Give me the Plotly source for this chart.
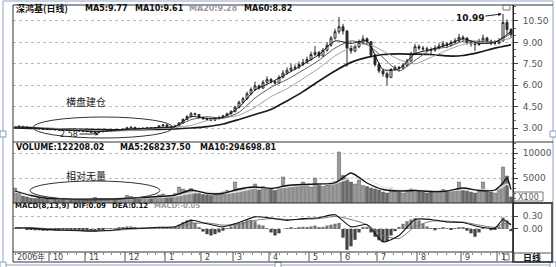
import plotly.graph_objects as go

W, H = 556, 267

def X(px):
    return px / W

def Y(py):
    return 1 - py / H

# ---------------- data ----------------
closes = [3.05,3.12,3.08,3.02,3.00,2.98,2.95,2.93,2.90,2.92,
          2.88,2.86,2.85,2.88,2.84,2.82,2.80,2.78,2.76,2.72,
          2.70,2.74,2.78,2.82,2.85,2.83,2.86,2.90,3.02,3.05,
          2.98,2.96,2.98,3.00,2.97,3.00,3.15,3.22,3.10,3.05,
          3.15,3.35,3.60,3.80,4.00,3.95,3.75,3.65,3.60,3.55,
          3.65,3.75,3.85,4.00,4.15,4.45,4.80,5.05,5.40,5.70,
          5.95,5.80,6.20,6.40,6.25,6.15,6.55,6.85,7.05,7.20,
          7.25,7.45,7.60,7.80,8.15,8.30,8.05,8.45,8.80,9.30,
          9.75,10.10,9.80,8.60,8.40,8.70,9.00,9.25,9.05,8.10,
          7.45,7.00,6.80,6.55,7.10,7.25,7.20,7.40,7.70,8.20,
          8.70,8.60,8.55,8.50,8.45,8.60,8.75,8.90,8.80,9.00,
          9.10,9.35,9.30,9.00,8.90,8.85,9.05,9.30,9.10,8.95,
          8.95,9.10,10.40,9.90,9.55]
opens = [3.00,3.05,3.12,3.08,3.03,3.00,2.98,2.95,2.93,2.89,
         2.92,2.88,2.86,2.84,2.88,2.84,2.82,2.80,2.78,2.76,
         2.72,2.69,2.74,2.78,2.82,2.85,2.83,2.86,2.90,3.02,
         3.05,2.98,2.96,2.98,3.00,2.97,3.00,3.15,3.22,3.10,
         3.05,3.15,3.35,3.60,3.80,4.00,3.95,3.75,3.65,3.60,
         3.55,3.65,3.75,3.85,4.00,4.15,4.45,4.80,5.05,5.40,
         5.70,5.95,5.80,6.20,6.40,6.25,6.15,6.55,6.85,7.05,
         7.20,7.25,7.45,7.60,7.80,8.15,8.30,8.05,8.45,8.80,
         9.30,9.75,10.10,9.80,8.60,8.40,8.70,9.00,9.25,9.05,
         8.10,7.45,7.00,6.80,6.55,7.10,7.25,7.20,7.40,7.70,
         8.20,8.70,8.60,8.55,8.50,8.45,8.60,8.75,8.90,8.80,
         9.00,9.10,9.35,9.30,9.00,8.90,8.85,9.05,9.30,9.10,
         8.95,8.95,9.10,10.40,9.90]
highs = [3.10,3.18,3.14,3.10,3.06,3.03,3.01,2.98,2.96,2.96,
         2.95,2.91,2.90,2.92,2.91,2.87,2.86,2.84,2.82,2.79,
         2.76,2.78,2.82,2.86,2.90,2.88,2.91,2.95,3.08,3.12,
         3.07,3.01,3.03,3.05,3.03,3.05,3.20,3.28,3.24,3.13,
         3.22,3.42,3.68,3.90,4.12,4.08,3.98,3.80,3.72,3.66,
         3.72,3.82,3.92,4.08,4.25,4.55,4.92,5.18,5.55,5.85,
         6.25,6.05,6.35,6.62,6.50,6.35,6.70,7.05,7.25,7.50,
         7.45,7.65,7.85,8.00,8.35,8.75,8.40,8.60,9.00,9.45,
         9.95,10.78,10.30,9.85,8.80,8.85,9.20,9.50,9.35,9.10,
         8.20,7.60,7.15,6.95,7.20,7.40,7.35,7.55,7.85,8.35,
         8.90,8.85,8.75,8.70,8.65,8.80,8.95,9.10,9.00,9.15,
         9.30,9.60,9.50,9.35,9.10,9.05,9.25,9.55,9.40,9.20,
         9.15,9.30,10.99,10.60,10.00]
lows = [2.97,3.02,3.04,2.98,2.96,2.94,2.91,2.89,2.86,2.86,
        2.84,2.82,2.81,2.81,2.80,2.78,2.76,2.73,2.70,2.66,
        2.58,2.65,2.71,2.75,2.79,2.79,2.80,2.83,2.88,2.98,
        2.93,2.91,2.92,2.94,2.92,2.93,2.97,3.10,3.05,3.00,
        3.02,3.12,3.30,3.55,3.74,3.86,3.68,3.58,3.52,3.48,
        3.50,3.60,3.70,3.80,3.94,4.10,4.38,4.72,4.98,5.30,
        5.62,5.68,5.75,6.10,6.12,6.02,6.10,6.48,6.75,6.95,
        7.05,7.15,7.35,7.50,7.72,8.05,7.90,7.98,8.35,8.70,
        9.20,9.60,9.55,7.30,8.20,8.30,8.60,8.90,8.85,7.95,
        7.30,6.85,6.60,6.00,6.50,7.00,6.95,7.10,7.30,7.60,
        8.10,8.45,8.40,8.30,8.10,8.35,8.50,8.65,8.60,8.70,
        8.90,9.00,9.10,8.85,8.70,8.40,8.75,8.95,8.95,8.80,
        8.80,8.85,9.05,9.60,9.30]
volumes = [3000,2200,1400,1200,1000,900,1100,800,900,1000,
           800,700,900,750,650,800,700,600,750,900,
           1100,800,700,750,850,700,800,900,1500,1300,
           1000,900,950,1100,900,1000,1600,1800,1300,1200,
           1900,3200,2800,2500,2900,2200,1900,1700,1600,1500,
           1800,2000,2200,2500,2300,4200,2800,3000,2700,3200,
           3800,2600,3300,3000,2700,2500,3000,5200,3400,3100,
           3600,3300,4200,3500,3200,5000,3600,3300,3600,4000,
           4300,10200,5500,5000,4200,3800,4600,3500,3300,3000,
           2800,2600,2200,2000,3000,2400,2200,2000,2300,2800,
           2600,2400,2200,2000,2500,2300,2100,2700,2400,2300,
           2600,4200,2800,2400,2200,2000,2500,4200,2600,2200,
           2000,3000,7200,5400,1222]
day_idx = list(range(len(closes)))

ma_idx = list(range(0, 125, 4))
ma5 = [3.06,3.03,2.93,2.86,2.82,2.73,2.82,2.93,2.97,3.04,3.10,3.80,3.67,3.75,4.45,5.65,
       6.20,6.80,7.45,8.15,9.10,8.93,9.10,7.10,7.15,8.20,8.50,8.82,9.25,8.93,9.00,9.77]
ma10 = [3.07,3.05,2.95,2.88,2.84,2.76,2.78,2.88,2.96,3.02,3.10,3.58,3.79,3.68,4.10,5.10,
        5.85,6.40,7.05,7.75,8.60,9.10,8.85,7.94,7.00,7.74,8.50,8.67,9.07,9.08,9.03,9.61]
ma20 = [3.05,3.05,3.02,2.94,2.88,2.81,2.78,2.81,2.90,2.97,3.03,3.18,3.52,3.72,3.90,4.45,
        5.20,5.75,6.45,7.20,8.05,8.65,8.90,8.40,7.80,7.50,7.95,8.45,8.85,9.00,9.08,9.28]
ma60 = [3.00,2.98,2.95,2.93,2.91,2.89,2.88,2.88,2.89,2.90,2.93,3.00,3.10,3.28,3.60,3.95,
        4.30,4.90,5.55,6.30,7.00,7.60,7.95,8.15,8.20,8.18,8.15,8.05,8.08,8.30,8.60,8.82]

vma_idx = list(range(0, 121, 4)) + [122, 123, 124]
vma5 = [2400,1500,950,850,750,800,800,950,1100,1300,1550,2600,1900,1900,2800,3200,2900,
        3500,3700,3800,4000,6000,4000,2700,2400,2500,2300,2400,3000,2500,2600,4000,5000,2682]
vma10 = [2200,1800,1200,900,800,800,800,900,1000,1150,1350,2000,2200,1900,2300,3000,3000,
         3200,3600,3700,3900,5000,4800,3200,2600,2500,2400,2400,2700,2700,2500,3300,3800,2947]

macd_idx = list(range(0, 121, 4)) + [122, 124]
dif = [0.03,0.02,-0.01,-0.03,-0.04,-0.05,-0.03,0.01,0.02,0.04,0.05,0.20,0.12,0.05,0.15,0.28,
       0.25,0.20,0.24,0.26,0.33,0.05,0.10,-0.30,-0.15,0.22,0.22,0.16,0.15,0.05,0.02,0.22,0.09]
dea = [0.03,0.03,0.01,-0.01,-0.03,-0.04,-0.04,-0.01,0.01,0.03,0.04,0.12,0.14,0.09,0.11,0.20,
       0.24,0.22,0.22,0.24,0.29,0.22,0.10,-0.15,-0.22,0.05,0.18,0.18,0.16,0.09,0.04,0.12,0.12]
macd_hist = [0.02,0.01,0.00,-0.01,-0.02,-0.03,-0.03,-0.04,-0.04,-0.03,
             -0.04,-0.04,-0.03,-0.02,-0.03,-0.03,-0.03,-0.04,-0.04,-0.05,
             -0.05,-0.03,-0.01,0.01,0.02,0.02,0.03,0.04,0.06,0.06,
             0.03,0.02,0.02,0.02,0.01,0.02,0.04,0.05,0.03,0.01,
             0.04,0.10,0.16,0.20,0.22,0.15,0.04,-0.06,-0.12,-0.15,
             -0.12,-0.08,-0.04,0.02,0.06,0.10,0.14,0.17,0.20,0.21,
             0.18,0.10,0.08,0.02,-0.08,-0.15,-0.10,0.00,0.02,0.03,
             0.02,0.03,0.05,0.04,0.06,0.08,0.03,0.05,0.08,0.10,
             0.12,0.14,-0.20,-0.48,-0.40,-0.25,-0.08,0.04,0.05,-0.08,
             -0.18,-0.26,-0.30,-0.28,-0.15,-0.05,0.05,0.12,0.18,0.22,
             0.25,0.20,0.12,0.06,0.02,-0.03,0.02,0.04,0.02,-0.02,
             0.01,0.04,0.03,-0.04,-0.10,-0.18,-0.08,0.02,0.00,-0.03,
             -0.02,0.06,0.27,0.20,-0.05]

stock_name = "深鸿基(日线)"
ma_periods = [5, 10, 20, 60]
ma_last = [9.77, 9.61, 9.28, 8.82]
vol_last = 122208.02
vol_ma_last = [268237.50, 294698.81]
macd_params = "MACD(8,13,9)"
macd_last = [0.09, 0.12, -0.05]

price_ticks = [3.00, 4.50, 6.00, 7.50, 9.00, 10.50]
vol_ticks = [5000, 10000]
macd_ticks = [0.00, 0.30]

month_labels = ["2006年", "10", "11", "12", "1", "2", "3", "4", "5", "6", "7", "8", "9", "1"]
month_start = [0, 9, 18, 28, 38, 47, 55, 64, 74, 82, 91, 101, 112, 121]

low_mark = (21, 2.58)
high_mark = (122, 10.99)

# ---------------- figure ----------------
LAT = "DejaVu Sans, Noto Sans CJK SC, sans-serif"
CJK = "Noto Sans CJK SC, DejaVu Sans, sans-serif"
n = len(closes)

fig = go.Figure()

fig.add_trace(go.Candlestick(
    x=day_idx, open=opens, high=highs, low=lows, close=closes,
    increasing=dict(line=dict(color="#2a2a2a", width=1), fillcolor="#ffffff"),
    decreasing=dict(line=dict(color="#2a2a2a", width=1), fillcolor="#2a2a2a"),
    whiskerwidth=0, xaxis="x", yaxis="y", hoverinfo="skip"))

for vals, col, wd in [(ma60, "#1a1a1a", 1.7), (ma20, "#a0a0a0", 1.0),
                      (ma10, "#555555", 1.0), (ma5, "#111111", 1.0)]:
    fig.add_trace(go.Scatter(x=ma_idx, y=vals, mode="lines",
                             line=dict(color=col, width=wd, shape="spline", smoothing=0.6),
                             xaxis="x", yaxis="y", hoverinfo="skip"))

vol_colors = ["#9a9a9a" if c >= o else "#6a6a6a" for o, c in zip(opens, closes)]
fig.add_trace(go.Bar(x=day_idx, y=volumes, marker=dict(color=vol_colors, line=dict(color="#555555", width=0.5)),
                     width=0.8, xaxis="x", yaxis="y2", hoverinfo="skip"))
fig.add_trace(go.Scatter(x=vma_idx, y=vma10, mode="lines",
                         line=dict(color="#e8e8e8", width=1.4, shape="spline", smoothing=0.6),
                         xaxis="x", yaxis="y2", hoverinfo="skip"))
fig.add_trace(go.Scatter(x=vma_idx, y=vma5, mode="lines",
                         line=dict(color="#111111", width=1.3, shape="spline", smoothing=0.6),
                         xaxis="x", yaxis="y2", hoverinfo="skip"))

hist_colors = ["#777777" if v >= 0 else "#444444" for v in macd_hist]
fig.add_trace(go.Bar(x=day_idx, y=macd_hist, marker=dict(color=hist_colors, line=dict(width=0)),
                     width=0.8, xaxis="x", yaxis="y3", hoverinfo="skip"))
fig.add_trace(go.Scatter(x=macd_idx, y=dea, mode="lines",
                         line=dict(color="#777777", width=1, shape="spline", smoothing=0.6),
                         xaxis="x", yaxis="y3", hoverinfo="skip"))
fig.add_trace(go.Scatter(x=macd_idx, y=dif, mode="lines",
                         line=dict(color="#111111", width=1.1, shape="spline", smoothing=0.6),
                         xaxis="x", yaxis="y3", hoverinfo="skip"))

axis_font = dict(family=LAT, size=9, color="#555555")
common_y = dict(side="right", showline=True, linecolor="#222222", linewidth=1,
                ticks="outside", ticklen=4, tickcolor="#444444", tickfont=axis_font,
                showgrid=True, gridcolor="#b8b8b8", griddash="dot", gridwidth=1,
                zeroline=False, fixedrange=True, anchor="x", ticklabelstandoff=3)

fig.update_layout(
    width=W, height=H, margin=dict(l=0, r=0, t=0, b=0),
    paper_bgcolor="white", plot_bgcolor="white", showlegend=False,
    xaxis=dict(domain=[X(13), X(513)], range=[-0.5, n - 0.5], anchor="y3",
               showticklabels=False, showgrid=False, zeroline=False,
               ticks="outside", ticklen=2, tickcolor="#888888", tick0=0, dtick=2.2,
               rangeslider=dict(visible=False), showline=False, fixedrange=True),
    yaxis=dict(domain=[Y(142), Y(5)], range=[2.02, 11.62],
               tickvals=price_ticks, ticktext=[f"{v:.2f}" for v in price_ticks],
               minor=dict(ticks="outside", ticklen=2, dtick=0.5, tick0=3, tickcolor="#666666", showgrid=False),
               **common_y),
    yaxis2=dict(domain=[Y(203), Y(142)], range=[0, 12200],
                tickvals=vol_ticks, ticktext=[str(v) for v in vol_ticks],
                minor=dict(ticks="outside", ticklen=2, dtick=1000, tickcolor="#666666", showgrid=False),
                **common_y),
    yaxis3=dict(domain=[Y(252), Y(203)], range=[-0.531, 0.6],
                tickvals=macd_ticks, ticktext=[f"{v:.2f}" for v in macd_ticks],
                **common_y),
)

shapes = []
def line(x0, y0, x1, y1, color="#222222", width=1, dash=None):
    d = dict(type="line", xref="paper", yref="paper", x0=X(x0), y0=Y(y0), x1=X(x1), y1=Y(y1),
             line=dict(color=color, width=width))
    if dash:
        d["line"]["dash"] = dash
    shapes.append(d)

def rect(x0, y0, x1, y1, color="#222222", width=1, fill="rgba(0,0,0,0)"):
    shapes.append(dict(type="rect", xref="paper", yref="paper", x0=X(x0), y0=Y(y0), x1=X(x1), y1=Y(y1),
                       line=dict(color=color, width=width), fillcolor=fill))

# outer light-blue frame and handles
rect(3, 1, 553, 265, color="#8ea6c4", width=1)
for hx, hy in [(3, 134), (553, 134), (3, 265), (278, 265), (553, 265)]:
    rect(hx - 3, hy - 3, hx + 3, hy + 3, color="#7f9cc0", width=1, fill="#ffffff")

# chart frame
line(13, 5, 553, 5, color="#333333")
line(13, 5, 13, 262, color="#333333")
line(13, 142, 553, 142, color="#333333")
line(13, 203, 553, 203, color="#333333")
line(13, 252, 513, 252, color="#333333")
line(13, 262, 553, 262, color="#333333")
line(513, 5, 513, 262, color="#222222")
rect(513, 203, 552, 262, color="#333333", width=1.5)
rect(514, 192, 543, 201, color="#777777", width=1)
rect(514, 253, 552, 262, color="#555555", width=1)
rect(503, 5, 510, 10, color="#777777", width=1)
rect(504, 254, 509, 260, color="#777777", width=1)

# month separators in date strip
for ms in month_start[1:]:
    shapes.append(dict(type="line", xref="x", yref="paper", x0=ms - 0.5, x1=ms - 0.5,
                       y0=Y(261), y1=Y(252), line=dict(color="#555555", width=1)))

# ellipses
shapes.append(dict(type="circle", xref="paper", yref="paper", x0=X(33), x1=X(173), y0=Y(138), y1=Y(117),
                   line=dict(color="#333333", width=1)))
shapes.append(dict(type="circle", xref="paper", yref="paper", x0=X(30), x1=X(160), y0=Y(200), y1=Y(181),
                   line=dict(color="#333333", width=1)))
fig.update_layout(shapes=shapes)

ann = []
def text(px, py, s, size=8, color="#111111", bold=True, family=LAT, anchor="left"):
    ann.append(dict(xref="paper", yref="paper", x=X(px), y=Y(py), text=(f"<b>{s}</b>" if bold else s),
                    showarrow=False, xanchor=anchor, yanchor="middle",
                    font=dict(family=family, size=size, color=color)))

# panel titles
text(14, 9, stock_name, size=9, family=CJK)
ma_x = [83, 133, 187, 242]
for p, v, px in zip(ma_periods, ma_last, ma_x):
    text(px, 9, f"MA{p}:{v:.2f}", color=("#9a9a9a" if p == 20 else "#111111"))
text(14, 147, f"VOLUME:{vol_last:.2f}")
text(118, 147, f"MA5:{vol_ma_last[0]:.2f}")
text(198, 147, f"MA10:{vol_ma_last[1]:.2f}")
text(13, 206, macd_params, size=7)
text(71, 206, f"DIF:{macd_last[0]:.2f}", size=7)
text(110, 206, f"DEA:{macd_last[1]:.2f}", size=7)
text(152, 206, f"MACD:{macd_last[2]:.2f}", size=7, color="#9a9a9a")

# right side boxes
text(528, 197, "X100", size=8, color="#555555", bold=False, anchor="center")
text(532, 257, "日线", size=9, color="#111111", family=CJK, anchor="center")

# date strip labels
for lbl, ms in zip(month_labels, month_start):
    ann.append(dict(xref="x", yref="paper", x=ms - 0.5, y=Y(257), text=lbl, showarrow=False,
                    xanchor="left", yanchor="middle", xshift=2,
                    font=dict(family=LAT, size=8, color="#444444")))

# in-chart annotations
text(86, 101, "横盘建仓", size=10, family=CJK, bold=False, anchor="center", color="#222222")
text(86, 175, "相对无量", size=10, family=CJK, bold=False, anchor="center", color="#222222")
ann.append(dict(xref="x", yref="y", x=low_mark[0], y=low_mark[1], text=f"{low_mark[1]:.2f}",
                showarrow=True, arrowhead=2, arrowsize=0.7, arrowwidth=1, arrowcolor="#222222",
                ax=-30, ay=0, font=dict(family=LAT, size=8, color="#222222")))
ann.append(dict(xref="x", yref="y", x=high_mark[0] - 0.3, y=high_mark[1], text=f"<b>{high_mark[1]:.2f}</b>",
                showarrow=True, arrowhead=2, arrowsize=0.7, arrowwidth=1, arrowcolor="#222222",
                ax=-32, ay=4, font=dict(family=LAT, size=9, color="#111111")))

fig.update_layout(annotations=ann)
fig.write_html("out.html")
